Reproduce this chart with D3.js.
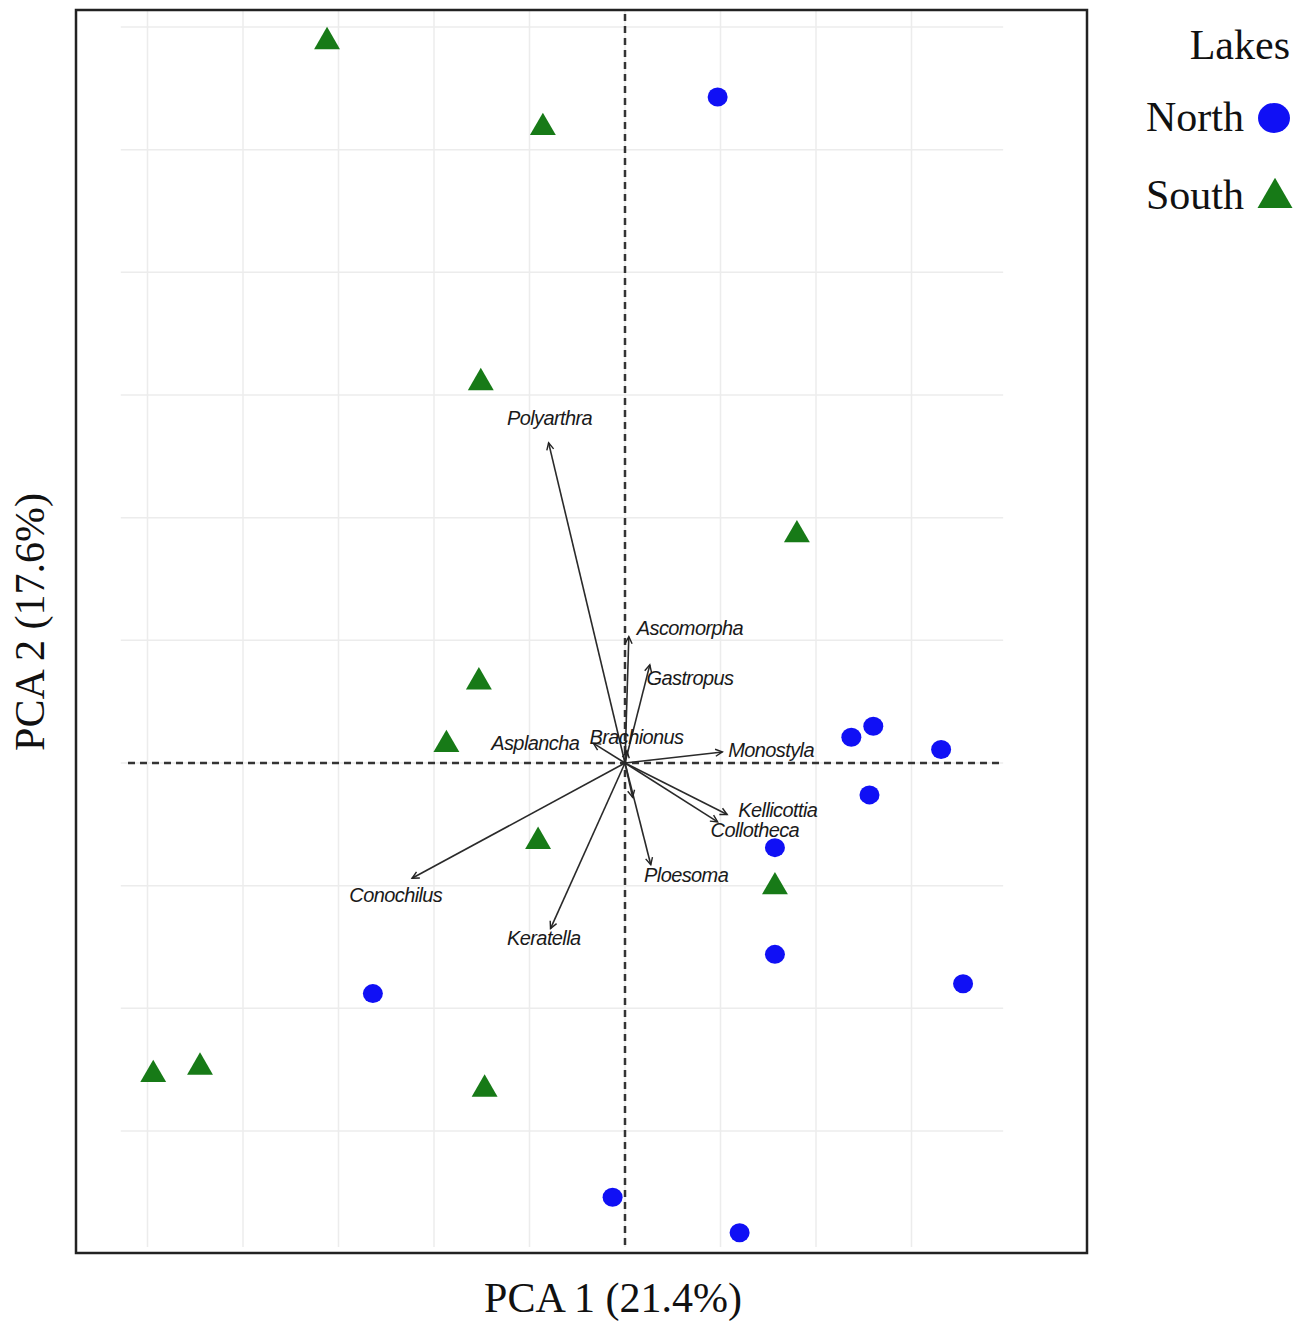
<!DOCTYPE html>
<html>
<head>
<meta charset="utf-8">
<script src="https://cdn.jsdelivr.net/npm/d3@7/dist/d3.min.js"></script>
<style>
body { margin: 0; background: #fff; }
</style>
</head>
<body>
<div id="graph"></div>
<script>
/*global d3*/
// PCA scores of the lakes
var northX = [0.97, 2.37, 2.60, 3.31, 2.56, 1.57, 1.57, 3.54, -2.64, -0.13, 1.20];
var northY = [5.43, 0.21, 0.30, 0.11, -0.26, -0.69, -1.56, -1.80, -1.88, -3.54, -3.83];
var southX = [-3.12, -0.86, -1.51, 1.80, -1.53, -1.87, -0.91, 1.57, -4.94, -4.45, -1.47];
var southY = [5.88, 5.18, 3.10, 1.86, 0.66, 0.15, -0.64, -1.01, -2.54, -2.48, -2.66];

// loadings of the species (arrows) and where their names sit
var species = ["Polyarthra", "Ascomorpha", "Gastropus", "Brachionus", "Asplancha", "Monostyla",
               "Kellicottia", "Collotheca", "Ploesoma", "Keratella", "Conochilus", ""];
var arrowX = [-0.80, 0.04, 0.26, 0.02, -0.33, 1.02, 1.07, 0.97, 0.27, -0.78, -2.23, 0.08];
var arrowY = [2.61, 1.03, 0.80, 0.10, 0.16, 0.09, -0.42, -0.48, -0.83, -1.35, -0.94, -0.28];
var labelX = [-0.79, 0.68, 0.68, 0.12, -0.94, 1.53, 1.60, 1.36, 0.64, -0.85, -2.40, 0];
var labelY = [2.81, 1.10, 0.69, 0.21, 0.16, 0.11, -0.38, -0.55, -0.91, -1.43, -1.08, 0];

// grille
var xTicks = [-5, -4, -3, -2, -1, 0, 1, 2, 3];
var yTicks = [-3, -2, -1, 0, 1, 2, 3, 4, 5, 6];
var legendTitle = "Lakes";
var legendLabels = ["North", "South"];
var xTitle = "PCA 1 (21.4%)", yTitle = "PCA 2 (17.6%)";

var totalWidth = 1311, totalHeight = 1323;

var x = d3.scaleLinear().domain([-5, 3]).range([147.5, 911.5]),
    y = d3.scaleLinear().domain([-3, 6]).range([1131, 27]);

var svg = d3.select("#graph").append("svg")
    .attr("width", totalWidth)
    .attr("height", totalHeight)
    .style("font-family", "'Liberation Serif', 'Times New Roman', serif");

svg.append("rect")
    .attr("width", totalWidth)
    .attr("height", totalHeight)
    .attr("fill", "#fff");

// grille légère
svg.selectAll(".hgrid").data(yTicks).enter().append("line")
    .attr("x1", x(-5.28)).attr("x2", x(3.96))
    .attr("y1", function(d) { return y(d); })
    .attr("y2", function(d) { return y(d); })
    .attr("stroke", "#ececec")
    .attr("stroke-width", 1.5);
svg.selectAll(".vgrid").data(xTicks).enter().append("line")
    .attr("x1", function(d) { return x(d); })
    .attr("x2", function(d) { return x(d); })
    .attr("y1", 11).attr("y2", 1247)
    .attr("stroke", "#ececec")
    .attr("stroke-width", 1.5);

// lignes de référence à 0
svg.append("line")
    .attr("x1", 128).attr("x2", 1004)
    .attr("y1", y(0)).attr("y2", y(0))
    .attr("stroke", "#333")
    .attr("stroke-width", 2.5)
    .attr("stroke-dasharray", "7, 5");
svg.append("line")
    .attr("x1", x(0)).attr("x2", x(0))
    .attr("y1", 14).attr("y2", 1250)
    .attr("stroke", "#333")
    .attr("stroke-width", 2.5)
    .attr("stroke-dasharray", "7, 5");

// cadre
svg.append("rect")
    .attr("x", 76).attr("y", 10)
    .attr("width", 1011).attr("height", 1243)
    .attr("fill", "none")
    .attr("stroke", "#222")
    .attr("stroke-width", 2.5);

// flèches des espèces
svg.append("defs").append("marker")
    .attr("id", "tete")
    .attr("viewBox", "-8 -5 10 10")
    .attr("refX", 0).attr("refY", 0)
    .attr("markerWidth", 10).attr("markerHeight", 10)
    .attr("markerUnits", "userSpaceOnUse")
    .attr("orient", "auto")
    .append("path")
    .attr("d", "M-7,-3.5L0,0L-7,3.5")
    .attr("fill", "none")
    .attr("stroke", "#222")
    .attr("stroke-width", 1.4);

svg.selectAll(".arrow").data(species).enter().append("line")
    .attr("x1", x(0)).attr("y1", y(0))
    .attr("x2", function(d, i) { return x(arrowX[i]); })
    .attr("y2", function(d, i) { return y(arrowY[i]); })
    .attr("stroke", "#2a2a2a")
    .attr("stroke-width", 1.6)
    .attr("marker-end", "url(#tete)");

svg.selectAll(".label").data(species).enter().append("text")
    .attr("x", function(d, i) { return x(labelX[i]); })
    .attr("y", function(d, i) { return y(labelY[i]); })
    .attr("dy", "0.35em")
    .attr("text-anchor", "middle")
    .style("font-family", "'Liberation Sans', Arial, sans-serif")
    .style("font-style", "italic")
    .style("font-size", "20px")
    .style("letter-spacing", "-0.6px")
    .attr("fill", "#1a1a1a")
    .text(function(d) { return d; });

// points
var tri = d3.symbol().type(d3.symbolTriangle).size(290);
svg.selectAll(".south").data(southX).enter().append("path")
    .attr("d", tri)
    .attr("transform", function(d, i) { return "translate(" + x(d) + "," + y(southY[i]) + ")"; })
    .attr("fill", "#177a17");
svg.selectAll(".north").data(northX).enter().append("ellipse")
    .attr("cx", function(d) { return x(d); })
    .attr("cy", function(d, i) { return y(northY[i]); })
    .attr("rx", 10).attr("ry", 9.5)
    .attr("fill", "#1010f5");

// légende
svg.append("text")
    .attr("x", 1290).attr("y", 59)
    .attr("text-anchor", "end")
    .style("font-size", "42px")
    .attr("fill", "#111")
    .text(legendTitle);
legendLabels.forEach(function(lab, i) {
    var cy = 118 + i * 78;
    svg.append("text")
        .attr("x", 1244).attr("y", cy + 13)
        .attr("text-anchor", "end")
        .style("font-size", "42px")
        .attr("fill", "#111")
        .text(lab);
    if (i === 0) {
        svg.append("ellipse")
            .attr("cx", 1274).attr("cy", cy)
            .attr("rx", 16).attr("ry", 15)
            .attr("fill", "#1010f5");
    } else {
        svg.append("path")
            .attr("d", d3.symbol().type(d3.symbolTriangle).size(530))
            .attr("transform", "translate(1275," + (cy + 2) + ")")
            .attr("fill", "#177a17");
    }
});

// titres des axes
svg.append("text")
    .attr("x", 613).attr("y", 1312)
    .attr("text-anchor", "middle")
    .style("font-size", "42px")
    .attr("fill", "#111")
    .text(xTitle);
svg.append("text")
    .attr("transform", "translate(44,622) rotate(-90)")
    .attr("text-anchor", "middle")
    .style("font-size", "42px")
    .attr("fill", "#111")
    .text(yTitle);
</script>
</body>
</html>
